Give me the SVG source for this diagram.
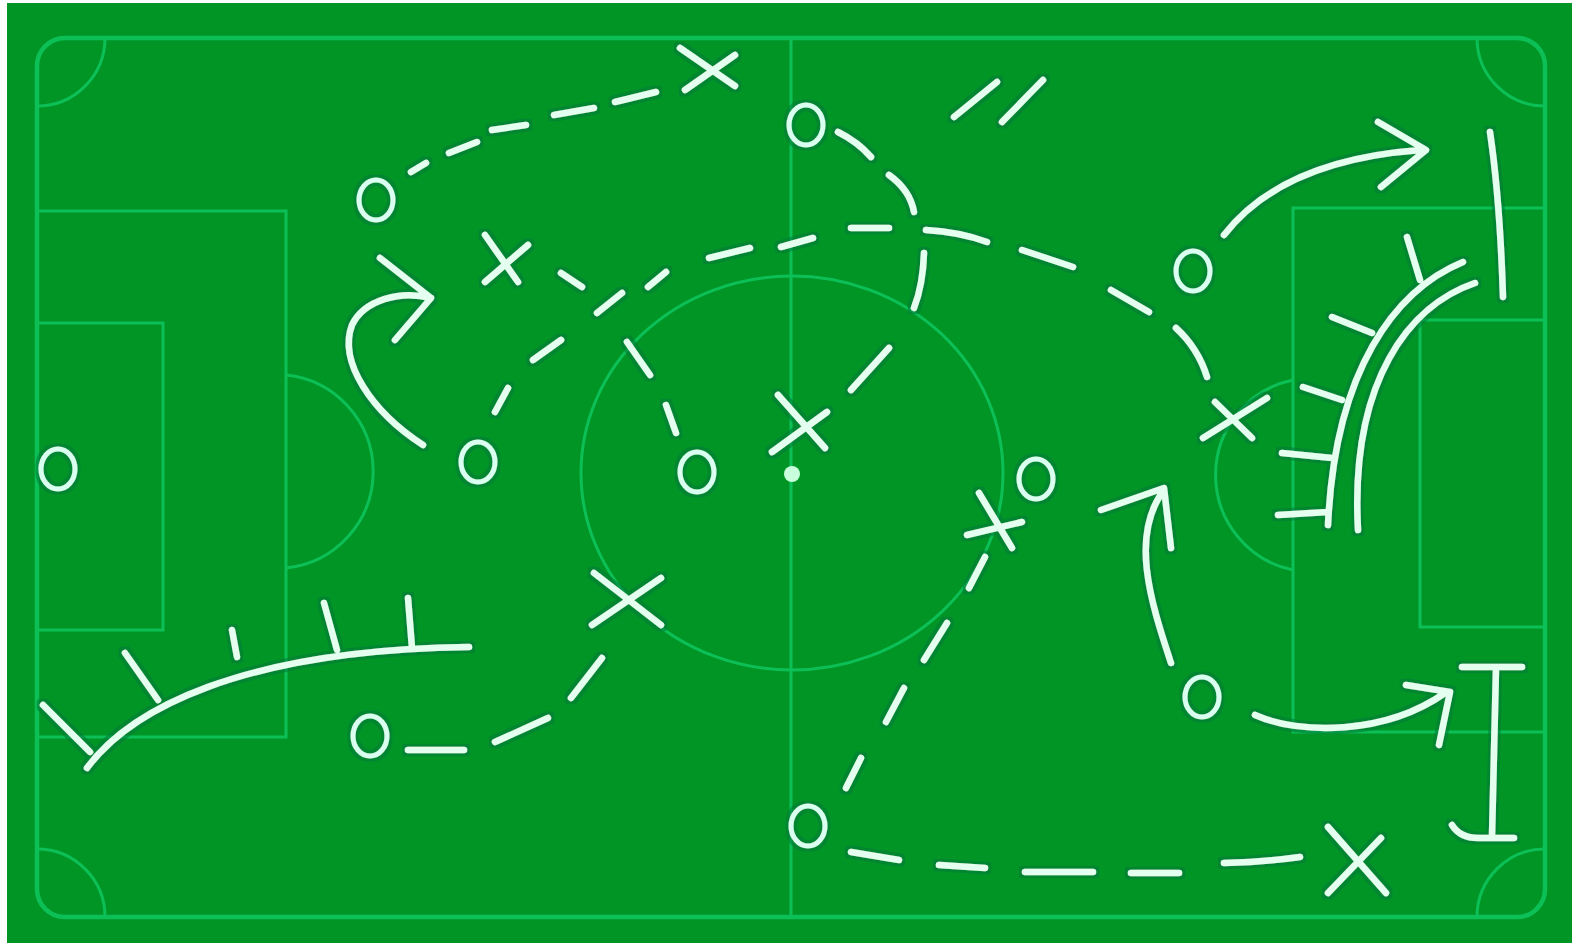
<svg xmlns="http://www.w3.org/2000/svg" width="1572" height="943" viewBox="0 0 1572 943">
<defs>
<style>
.field{fill:none;stroke:#0cc057;stroke-width:3}
.edge{fill:none;stroke:#0cc057;stroke-width:4.5}
.chalk{fill:none;stroke:#e4fff0;stroke-width:6.5;stroke-linecap:round;stroke-linejoin:round}
.o{fill:none;stroke:#d8fff0;stroke-width:5}
</style>
<filter id="halo" x="-10%" y="-10%" width="120%" height="120%">
<feMorphology in="SourceAlpha" operator="dilate" radius="2.5" result="d"/>
<feFlood flood-color="#057a3a" flood-opacity="0.55"/>
<feComposite in2="d" operator="in" result="h"/>
<feMerge><feMergeNode in="h"/><feMergeNode in="SourceGraphic"/></feMerge>
</filter>
</defs>
<rect width="1572" height="943" fill="#019526"/>
<rect x="0" y="0" width="7" height="943" fill="#ffffff"/>
<rect x="0" y="0" width="1572" height="3" fill="#ffffff"/>
<g id="pitch">
<rect class="edge" x="37" y="38" width="1508" height="879" rx="28" ry="28"/>
<line class="field" x1="791" y1="38" x2="791" y2="917"/>
<ellipse class="field" cx="792" cy="473" rx="211" ry="197"/>
<circle cx="792" cy="474" r="8" fill="#c9ffdc"/>
<rect class="field" x="37" y="211" width="249" height="526"/>
<rect class="field" x="37" y="323" width="126" height="307"/>
<path class="field" d="M286,375 A97,97 0 0 1 286,568"/>
<rect class="field" x="1293" y="208" width="252" height="524"/>
<rect class="field" x="1420" y="320" width="125" height="307"/>
<path class="field" d="M1293,380 A97,97 0 0 0 1293,570"/>
<path class="field" d="M37,106 A68,68 0 0 0 105,38"/>
<path class="field" d="M1477,38 A68,68 0 0 0 1545,106"/>
<path class="field" d="M37,849 A68,68 0 0 1 105,917"/>
<path class="field" d="M1545,849 A68,68 0 0 0 1477,917"/>
</g>
<g id="players" filter="url(#halo)">
<g id="o1"><ellipse class="o" cx="376" cy="200" rx="17" ry="20"/></g>
<g id="o2"><ellipse class="o" cx="806" cy="125" rx="17" ry="20"/></g>
<g id="o3"><ellipse class="o" cx="1193" cy="271" rx="17" ry="20"/></g>
<g id="o4"><ellipse class="o" cx="58" cy="469" rx="17" ry="20"/></g>
<g id="o5"><ellipse class="o" cx="478" cy="462" rx="17" ry="20"/></g>
<g id="o6"><ellipse class="o" cx="697" cy="472" rx="17" ry="20"/></g>
<g id="o7"><ellipse class="o" cx="1036" cy="479" rx="17" ry="20"/></g>
<g id="o8"><ellipse class="o" cx="370" cy="736" rx="17" ry="20"/></g>
<g id="o9"><ellipse class="o" cx="1202" cy="697" rx="17" ry="20"/></g>
<g id="o10"><ellipse class="o" cx="808" cy="826" rx="17" ry="20"/></g>
<g id="x1"><path class="chalk" d="M680,48 L735,86 M735,55 L685,90"/></g>
<g id="x2"><path class="chalk" d="M485,235 L518,282 M528,245 L485,282"/></g>
<g id="x3"><path class="chalk" d="M778,395 L825,448 M827,412 L772,452"/></g>
<g id="x4"><path class="chalk" d="M1215,402 L1252,438 M1267,398 L1203,438"/></g>
<g id="x5"><path class="chalk" d="M979,493 L1012,548 M967,535 L1022,522"/></g>
<g id="x6"><path class="chalk" d="M594,573 L661,625 M661,578 L592,625"/></g>
<g id="x7"><path class="chalk" d="M1328,827 L1386,893 M1381,838 L1328,893"/></g>
</g>
<g id="connectors" class="chalk" filter="url(#halo)">
<path d="M411,172 L426,163 M449,153 L477,142 M492,130 L526,125 M554,115 L594,108 M615,102 L656,92"/>
<path d="M838,132 Q858,142 871,157 M889,175 Q910,190 914,212 M924,253 Q923,285 914,308 M889,348 L851,390"/>
<path d="M561,273 L582,287 M627,342 L650,375 M666,405 L676,433"/>
<path d="M495,412 L508,388 M533,360 L561,340 M597,313 L622,293 M648,287 L666,272 M709,258 L750,248 M781,247 L813,238 M851,228 L889,228 M926,230 Q960,232 987,242 M1022,250 L1073,267 M1111,290 L1149,312 M1176,328 Q1198,348 1207,377"/>
<path d="M985,557 L969,588 M947,623 L924,660 M904,688 L886,722 M861,758 L846,788"/>
<path d="M851,852 L899,860 M939,865 L985,868 M1025,872 L1093,872 M1131,873 L1179,873 M1224,863 Q1265,862 1300,857"/>
<path d="M408,750 L464,750 M495,742 L548,718 M571,698 L602,658"/>
<path d="M954,117 L997,82 M1002,122 L1043,80"/>
<path d="M423,445 C372,412 338,362 352,325 C364,300 400,290 431,298 M380,258 L431,298 L395,340"/>
<path d="M1224,235 C1255,195 1310,158 1421,150 M1378,122 L1426,150 L1381,187"/>
<path d="M1171,663 C1150,600 1130,535 1164,490 M1101,510 L1164,488 L1171,548"/>
<path d="M1255,715 C1300,735 1385,735 1445,693 M1406,685 L1450,692 L1439,745"/>
<path d="M1462,667 L1522,667 M1496,668 L1492,837 M1452,825 Q1460,838 1478,838 L1514,838"/>
<path d="M1490,132 Q1500,200 1503,297"/>
<path d="M87,768 C130,710 240,650 469,647 M43,705 L90,752 M125,653 L158,700 M232,630 L237,657 M324,603 L337,650 M408,598 L412,648"/>
<path d="M1463,262 C1395,290 1335,370 1328,525 M1475,283 C1410,305 1350,380 1358,530 M1407,237 L1420,280 M1332,317 L1372,333 M1303,387 L1342,400 M1282,453 L1332,458 M1278,515 L1328,512"/>
</g>
</svg>
